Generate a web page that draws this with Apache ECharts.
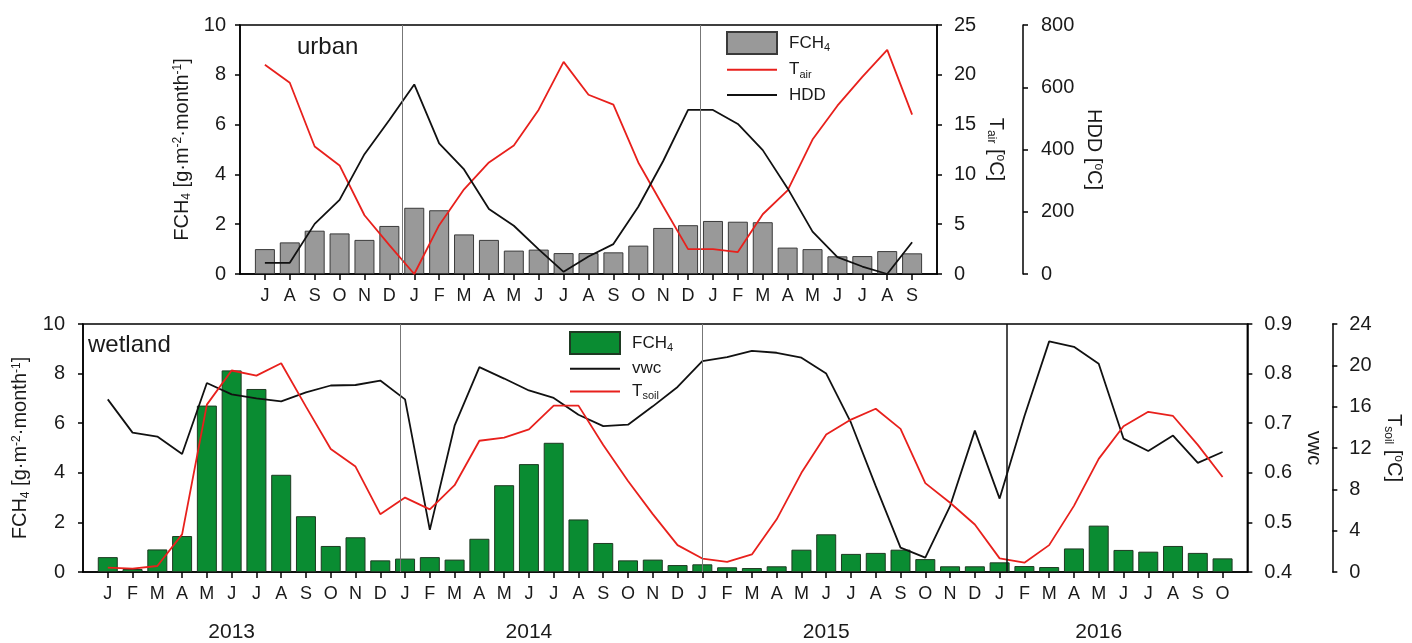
<!DOCTYPE html>
<html>
<head>
<meta charset="utf-8">
<title>FCH4 urban / wetland</title>
<script src="https://cdn.jsdelivr.net/npm/echarts@6/dist/echarts.min.js"></script>
<style>
  html, body { margin: 0; padding: 0; background: #fff; }
  #chart { width: 1412px; height: 643px; }
</style>
</head>
<body>
<div id="chart"></div>
<script>
// urban site, Jul 2013 - Sep 2015
const urbanMonths = ['J', 'A', 'S', 'O', 'N', 'D',
  'J', 'F', 'M', 'A', 'M', 'J', 'J', 'A', 'S', 'O', 'N', 'D',
  'J', 'F', 'M', 'A', 'M', 'J', 'J', 'A', 'S'];
const urbanFch4 = [1.0, 1.27, 1.74, 1.63, 1.37, 1.93,
  2.66, 2.56, 1.59, 1.37, 0.94, 0.98, 0.84, 0.84, 0.87, 1.14, 1.85, 1.96,
  2.13, 2.1, 2.08, 1.06, 1.0, 0.71, 0.72, 0.92, 0.83];
const urbanTair = [21.0, 19.2, 12.8, 10.9, 5.9, 2.9,
  0.0, 4.9, 8.5, 11.2, 12.9, 16.5, 21.3, 18.0, 17.0, 11.2, 6.8, 2.5,
  2.5, 2.2, 6.0, 8.4, 13.5, 16.9, 19.8, 22.5, 16.0];
const urbanHdd = [36, 36, 161, 238, 385, 495,
  609, 420, 336, 209, 155, 79, 7, 56, 96, 216, 363, 527,
  527, 482, 398, 275, 136, 54, 24, 0, 102];

// wetland site, Jan 2013 - Oct 2016
const wetlandMonths = [
  'J', 'F', 'M', 'A', 'M', 'J', 'J', 'A', 'S', 'O', 'N', 'D',
  'J', 'F', 'M', 'A', 'M', 'J', 'J', 'A', 'S', 'O', 'N', 'D',
  'J', 'F', 'M', 'A', 'M', 'J', 'J', 'A', 'S', 'O', 'N', 'D',
  'J', 'F', 'M', 'A', 'M', 'J', 'J', 'A', 'S', 'O'];
const wetlandYears = ['2013', '2014', '2015', '2016'];
const wetlandFch4 = [
  0.6, 0.12, 0.91, 1.45, 6.71, 8.13, 7.38, 3.92, 2.25, 1.05, 1.4, 0.47,
  0.54, 0.6, 0.5, 1.34, 3.5, 4.35, 5.21, 2.12, 1.17, 0.47, 0.5, 0.28,
  0.31, 0.19, 0.16, 0.23, 0.9, 1.52, 0.73, 0.77, 0.9, 0.52, 0.23, 0.23,
  0.39, 0.24, 0.2, 0.95, 1.87, 0.89, 0.82, 1.05, 0.77, 0.55];
const wetlandVwc = [
  0.748, 0.681, 0.673, 0.638, 0.781, 0.758, 0.75, 0.744, 0.762, 0.776, 0.777, 0.786,
  0.748, 0.485, 0.695, 0.813, 0.79, 0.766, 0.751, 0.717, 0.694, 0.697, 0.734, 0.773,
  0.825, 0.833, 0.846, 0.842, 0.832, 0.8, 0.701, 0.573, 0.449, 0.429, 0.533, 0.685,
  0.548, 0.714, 0.865, 0.854, 0.82, 0.669, 0.644, 0.675, 0.62, 0.642];
const wetlandTsoil = [
  0.42, 0.33, 0.58, 3.64, 16.2, 19.5, 19.0, 20.2, 16.0, 11.9, 10.2, 5.6,
  7.2, 6.06, 8.4, 12.7, 13.0, 13.8, 16.1, 16.1, 12.3, 8.8, 5.6, 2.6,
  1.3, 0.97, 1.7, 5.1, 9.6, 13.3, 14.75, 15.8, 13.85, 8.6, 6.7, 4.6,
  1.32, 0.9, 2.6, 6.4, 10.95, 14.1, 15.5, 15.1, 12.3, 9.2];

const FONT = "'Liberation Sans', Arial, sans-serif";
const TEXT = '#1a1a1a';
const RED = '#e8201c';

// where the year labels and the year separators sit (month index units)
const yearLabelAt = [5, 17, 29, 40];
const urbanBreaks = [5.53, 17.5];
const wetlandBreaks = [11.8, 24, 36.3];

const idx = arr => arr.map((_, i) => i);
const pts = arr => arr.map((v, i) => [i, v]);

const rich = size => ({
  n: { fontSize: size, fontFamily: FONT, color: TEXT },
  sub: { fontSize: Math.round(size * 0.62), fontFamily: FONT, color: TEXT, padding: [10, 0, 0, 0] },
  sup: { fontSize: Math.round(size * 0.62), fontFamily: FONT, color: TEXT, padding: [0, 0, 9, 0] }
});

const fluxName = '{n|FCH}{sub|4}{n| [g·m}{sup|-2}{n|·month}{sup|-1}{n|]}';

function xAxis(gridIndex, labels, min, max) {
  return {
    type: 'value', gridIndex, min, max,
    axisLine: { show: true, onZero: false, lineStyle: { color: '#000', width: 1.5 } },
    axisTick: { show: true, customValues: idx(labels), length: 6, lineStyle: { color: '#000', width: 1.5 } },
    axisLabel: {
      customValues: idx(labels), formatter: v => labels[v],
      margin: 13, fontSize: 18, fontFamily: FONT, color: TEXT
    },
    splitLine: { show: false }
  };
}

function yAxis(gridIndex, opts) {
  return Object.assign({
    type: 'value', gridIndex,
    nameLocation: 'middle',
    nameTextStyle: { fontSize: 20, fontFamily: FONT, color: TEXT, rich: rich(20) },
    axisLine: { show: true, onZero: false, lineStyle: { color: '#000', width: 1.5 } },
    axisTick: { show: true, length: 5, lineStyle: { color: '#000', width: 1.5 } },
    axisLabel: { fontSize: 20, fontFamily: FONT, color: TEXT, margin: 14 },
    splitLine: { show: false }
  }, opts);
}

function breakLines(values, lastDark) {
  return {
    silent: true, symbol: 'none',
    label: { show: false },
    lineStyle: { color: '#777', width: 1, type: 'solid' },
    data: values.map((v, i) => {
      const item = { xAxis: v };
      if (lastDark && i === values.length - 1) item.lineStyle = { color: '#111', width: 1.5, type: 'solid' };
      return item;
    })
  };
}

const legendLabel = {
  'FCH4 urban': '{n|FCH}{sub|4}',
  'FCH4 wetland': '{n|FCH}{sub|4}',
  'Tair': '{n|T}{sub|air}',
  'HDD': '{n|HDD}',
  'vwc': '{n|vwc}',
  'Tsoil': '{n|T}{sub|soil}'
};

// line entries in the legend: plain line, no marker
const lineEntry = name => ({ name, itemStyle: { opacity: 0 } });

const legendBase = {
  orient: 'vertical', itemWidth: 50, itemHeight: 22, itemGap: 6,
  padding: 0, selectedMode: false,
  formatter: name => legendLabel[name],
  textStyle: { fontSize: 17, fontFamily: FONT, color: TEXT, padding: [0, 0, 0, 7], rich: rich(17) }
};

const chart = echarts.init(document.getElementById('chart'));

const option = {
  animation: false,
  backgroundColor: '#fff',
  title: [
    { text: 'urban', left: 297, top: 35, padding: 0,
      textStyle: { fontSize: 24, fontWeight: 'normal', fontFamily: FONT, color: TEXT } },
    { text: 'wetland', left: 88, top: 333, padding: 0,
      textStyle: { fontSize: 24, fontWeight: 'normal', fontFamily: FONT, color: TEXT } }
  ],
  legend: [
    Object.assign({}, legendBase, {
      left: 726, top: 31,
      data: [{ name: 'FCH4 urban', icon: 'rect' }, lineEntry('Tair'), lineEntry('HDD')]
    }),
    Object.assign({}, legendBase, {
      left: 569, top: 331, itemGap: 5,
      data: [{ name: 'FCH4 wetland', icon: 'rect' }, lineEntry('vwc'), lineEntry('Tsoil')]
    })
  ],
  grid: [
    { left: 240, right: 475, top: 25, height: 249, show: true, borderColor: '#000', borderWidth: 1.5 },
    { left: 83, right: 159, top: 324, height: 249, show: true, borderColor: '#000', borderWidth: 1.5 }
  ],
  xAxis: [
    xAxis(0, urbanMonths, -1, 27),
    xAxis(1, wetlandMonths, -1, 46),
    {
      type: 'value', gridIndex: 1, min: -1, max: 46, position: 'bottom', offset: 40,
      axisLine: { show: false }, axisTick: { show: false }, splitLine: { show: false },
      axisLabel: {
        customValues: yearLabelAt,
        formatter: v => wetlandYears[yearLabelAt.indexOf(v)],
        margin: 10, fontSize: 21, fontFamily: FONT, color: TEXT
      }
    }
  ],
  yAxis: [
    yAxis(0, { min: 0, max: 10, interval: 2, position: 'left', name: fluxName, nameRotate: 90, nameGap: 47 }),
    yAxis(0, { min: 0, max: 25, interval: 5, position: 'right', name: '{n|T}{sub|air}{n| [}{sup|o}{n|C]}', nameRotate: -90, nameGap: 48,
      axisLabel: { fontSize: 20, fontFamily: FONT, color: TEXT, margin: 17 } }),
    yAxis(0, { min: 0, max: 800, interval: 200, position: 'right', offset: 86, name: '{n|HDD [}{sup|o}{n|C]}', nameRotate: -90, nameGap: 60,
      axisLabel: { fontSize: 20, fontFamily: FONT, color: TEXT, margin: 18 } }),
    yAxis(1, { min: 0, max: 10, interval: 2, position: 'left', name: fluxName, nameRotate: 90, nameGap: 46,
      axisLabel: { fontSize: 20, fontFamily: FONT, color: TEXT, margin: 18 } }),
    yAxis(1, { min: 0.4, max: 0.9, interval: 0.1, position: 'right', name: '{n|vwc}', nameRotate: -90, nameGap: 54,
      axisLabel: { fontSize: 20, fontFamily: FONT, color: TEXT, margin: 17, formatter: v => v.toFixed(1) } }),
    yAxis(1, { min: 0, max: 24, interval: 4, position: 'right', offset: 85, name: '{n|T}{sub|soil}{n| [}{sup|o}{n|C]}', nameRotate: -90, nameGap: 48,
      axisLabel: { fontSize: 20, fontFamily: FONT, color: TEXT, margin: 17 } })
  ],
  series: [
    {
      name: 'FCH4 urban', type: 'bar', xAxisIndex: 0, yAxisIndex: 0,
      data: pts(urbanFch4), barWidth: 20,
      itemStyle: { color: '#999999', borderColor: '#3a3a3a', borderWidth: 1 },
      markLine: breakLines(urbanBreaks, false)
    },
    {
      name: 'Tair', type: 'line', xAxisIndex: 0, yAxisIndex: 1,
      data: pts(urbanTair), symbol: 'none',
      lineStyle: { color: RED, width: 1.8 }, itemStyle: { color: RED }
    },
    {
      name: 'HDD', type: 'line', xAxisIndex: 0, yAxisIndex: 2,
      data: pts(urbanHdd), symbol: 'none',
      lineStyle: { color: '#111', width: 1.8 }, itemStyle: { color: '#111' }
    },
    {
      name: 'FCH4 wetland', type: 'bar', xAxisIndex: 1, yAxisIndex: 3,
      data: pts(wetlandFch4), barWidth: 20,
      itemStyle: { color: '#0a8c32', borderColor: '#1e3a22', borderWidth: 1 },
      markLine: breakLines(wetlandBreaks, true)
    },
    {
      name: 'vwc', type: 'line', xAxisIndex: 1, yAxisIndex: 4,
      data: pts(wetlandVwc), symbol: 'none',
      lineStyle: { color: '#111', width: 1.8 }, itemStyle: { color: '#111' }
    },
    {
      name: 'Tsoil', type: 'line', xAxisIndex: 1, yAxisIndex: 5,
      data: pts(wetlandTsoil), symbol: 'none',
      lineStyle: { color: RED, width: 1.8 }, itemStyle: { color: RED }
    }
  ]
};

chart.setOption(option);
</script>
</body>
</html>
